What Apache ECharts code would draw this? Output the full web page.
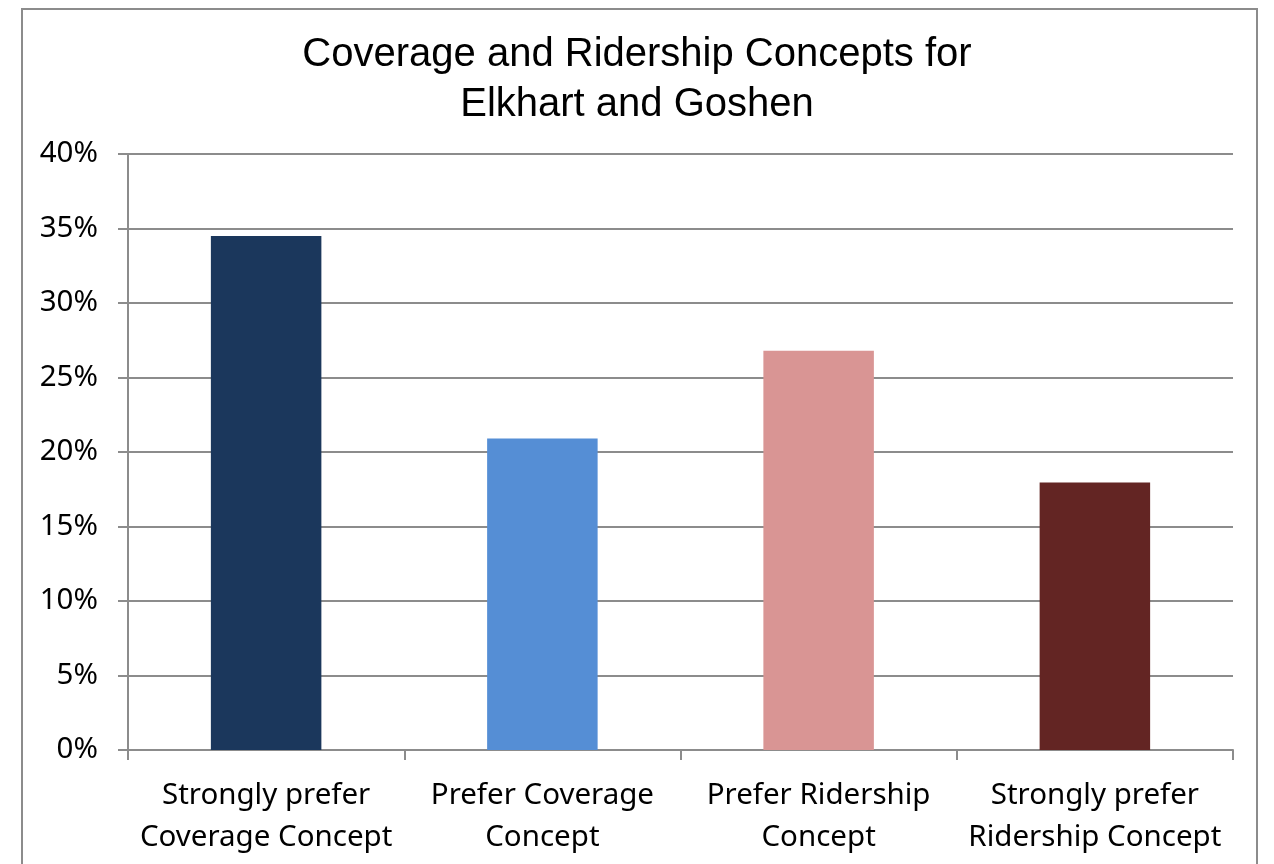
<!DOCTYPE html>
<html>
<head>
<meta charset="utf-8">
<script src="https://cdn.jsdelivr.net/npm/echarts@6/dist/echarts.min.js"></script>
<style>
html,body{margin:0;padding:0;background:#fff;}
#c{width:1274px;height:864px;}
</style>
</head>
<body>
<div id="c"></div>
<script>
var categories = ["Strongly prefer\nCoverage Concept", "Prefer Coverage\nConcept", "Prefer Ridership\nConcept", "Strongly prefer\nRidership Concept"];
var values = [34.5, 20.9, 26.8, 17.95];
var barColors = ["#1B375C", "#558ED5", "#D99594", "#632523"];
var yTicks = [0, 5, 10, 15, 20, 25, 30, 35, 40];

var chart = echarts.init(document.getElementById('c'));
var font = '"Noto Sans", "Open Sans", sans-serif';
chart.setOption({
  animation: false,
  backgroundColor: '#fff',
  title: {
    text: 'Coverage and Ridership Concepts for\nElkhart and Goshen',
    left: 'center',
    top: 25,
    textStyle: {fontFamily: '"Liberation Sans", Arial, sans-serif', fontSize: 40, fontWeight: 'normal', color: '#000', lineHeight: 50}
  },
  graphic: [{
    type: 'rect',
    shape: {x: 22, y: 9, width: 1235, height: 900},
    style: {fill: 'none', stroke: '#8c8c8c', lineWidth: 2},
    silent: true
  }],
  grid: {left: 128, right: 41, top: 154, bottom: 114, containLabel: false},
  xAxis: {
    type: 'category',
    data: categories,
    axisLine: {lineStyle: {color: '#8c8c8c', width: 2}},
    axisTick: {show: true, length: 10, lineStyle: {color: '#8c8c8c', width: 2}},
    axisLabel: {fontFamily: font, fontSize: 29.5, color: '#000', lineHeight: 42, margin: 25, interval: 0}
  },
  yAxis: {
    type: 'value',
    min: 0, max: 40, interval: 5,
    axisLine: {show: true, lineStyle: {color: '#8c8c8c', width: 2}},
    axisTick: {show: true, length: 10, lineStyle: {color: '#8c8c8c', width: 2}},
    splitLine: {show: true, lineStyle: {color: '#8c8c8c', width: 2}},
    axisLabel: {fontFamily: font, fontSize: 29.5, color: '#000', margin: 30, padding: [4, 0, 0, 0],
      formatter: function(v){ return yTicks.indexOf(v) >= 0 ? v + '%' : ''; }}
  },
  series: [{
    type: 'bar',
    barWidth: '40%',
    data: values.map(function(v, i){ return {value: v, itemStyle: {color: barColors[i]}}; })
  }]
});
</script>
</body>
</html>
